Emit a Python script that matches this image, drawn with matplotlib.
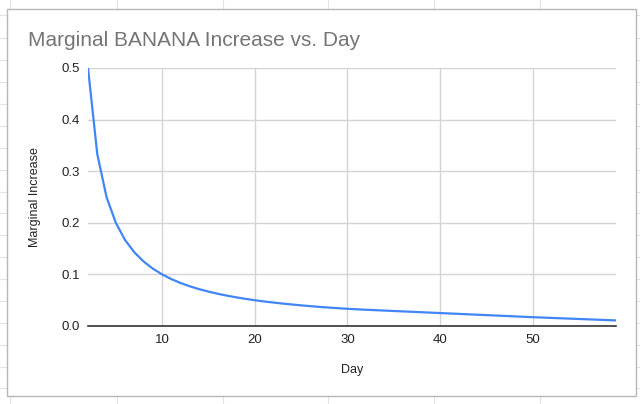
import matplotlib.pyplot as plt
from matplotlib.lines import Line2D
from matplotlib.patches import Rectangle

plt.rcParams['font.family'] = ['Liberation Sans', 'DejaVu Sans']

days = list(range(2, 60))
marginal = [0.5000, 0.3333, 0.2500, 0.2000, 0.1667, 0.1429, 0.1250, 0.1111, 0.1000,
            0.0909, 0.0833, 0.0769, 0.0714, 0.0667, 0.0625, 0.0588, 0.0556, 0.0526,
            0.0500, 0.0476, 0.0455, 0.0435, 0.0417, 0.0400, 0.0385, 0.0370, 0.0357,
            0.0345, 0.0333, 0.0324, 0.0315, 0.0307, 0.0299, 0.0291, 0.0283, 0.0275,
            0.0267, 0.0259, 0.0251, 0.0243, 0.0235, 0.0227, 0.0219, 0.0211, 0.0203,
            0.0195, 0.0187, 0.0179, 0.0171, 0.0164, 0.0157, 0.0150, 0.0143, 0.0136,
            0.0129, 0.0122, 0.0115, 0.0108]
xticks = [10, 20, 30, 40, 50]
yticks = [0.0, 0.1, 0.2, 0.3, 0.4, 0.5]

W, H = 640, 404
fig = plt.figure(figsize=(6.4, 4.04), dpi=100)

# spreadsheet cells behind the chart
cell = '#e3e3e3'
for x in [10, 117, 223, 328, 434, 540]:
    fig.add_artist(Line2D([x / W, x / W], [0, 1], color=cell, lw=0.8, zorder=-3))
for y in [15, 38, 60, 82, 104, 126, 148, 170, 192, 213, 235, 257, 279, 301, 323, 345, 367, 388]:
    fig.add_artist(Line2D([0, 1], [1 - y / H, 1 - y / H], color=cell, lw=0.8, zorder=-3))

# chart box
fig.add_artist(Rectangle((7 / W, 1 - 396 / H), 629 / W, 387 / H, facecolor='white',
                         edgecolor='#b7b7b7', lw=1.0, zorder=-2))

ax = fig.add_axes([88 / W, 1 - 326 / H, 528 / W, 258 / H])
ax.plot(days, marginal, color='#4285f4', lw=1.6, zorder=3)
ax.set_xlim(2, 59)
ax.set_ylim(0, 0.5)
ax.set_xticks(xticks)
ax.set_yticks(yticks)
ax.set_yticklabels(['0.0', '0.1', '0.2', '0.3', '0.4', '0.5'])
ax.grid(True, color='#d4d4d4', lw=1.0)
ax.set_axisbelow(True)
ax.tick_params(length=0, labelsize=9.5, pad=6, colors='#222222')
for s in ['top', 'right', 'left']:
    ax.spines[s].set_visible(False)
ax.spines['bottom'].set_color('#333333')
ax.spines['bottom'].set_linewidth(1.2)
ax.patch.set_alpha(0)

fig.text(352 / W, 1 - 370 / H, 'Day', ha='center', va='center', fontsize=9, color='#222222')
fig.text(35 / W, 1 - 197 / H, 'Marginal Increase', ha='center', va='center',
         rotation=90, fontsize=9, color='#222222')
fig.text(28 / W, 1 - 40 / H, 'Marginal BANANA Increase vs. Day', ha='left', va='center',
         fontsize=15, color='#757575')

fig.savefig('out.png', dpi=100)
